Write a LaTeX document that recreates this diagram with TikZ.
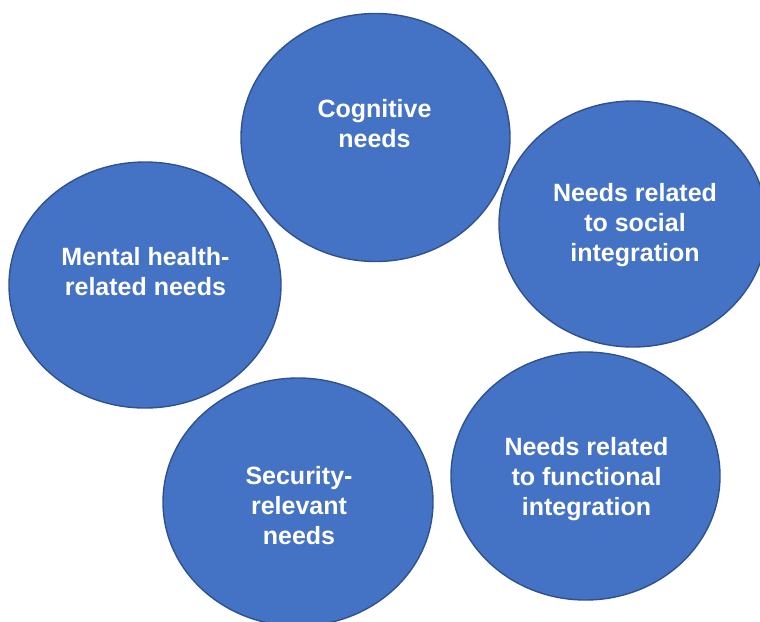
\documentclass[tikz,border=0pt]{standalone}
\usepackage{fontspec}
\setmainfont{Liberation Sans}
\usetikzlibrary{shapes.geometric}
\definecolor{blobfill}{HTML}{4472C4}
\definecolor{blobline}{HTML}{2F528F}
\tikzset{
  blob/.style={ellipse, fill=blobfill, draw=blobline, line width=1.4pt,
    minimum width=269pt, minimum height=248pt, inner sep=0pt},
  blobtext/.style={text=white, align=center, inner sep=0pt,
    font=\bfseries\fontsize{25}{30}\selectfont}
}
\begin{document}
\begin{tikzpicture}[x=1pt,y=-1pt]
  \useasboundingbox (0,0) rectangle (760,621);
  \begin{scope}
    \clip (0,0) rectangle (760,621);
    \node[blob] (cog) at (375.5,137.5) {};
    \node[blob, minimum width=268pt, minimum height=246pt] (soc) at (633,224) {};
    \node[blob, minimum width=272pt, minimum height=246pt] (men) at (145,285) {};
    \node[blob, minimum width=270pt] (sec) at (298,502) {};
    \node[blob] (fun) at (585.5,476) {};
  \end{scope}
  \node[blobtext] (cogt) at (374.5,124) {Cognitive\\needs};
  \node[blobtext] (soct) at (635,225.5) {Needs related\\to social\\integration};
  \node[blobtext] (ment) at (145.5,272) {Mental health-\\related needs};
  \node[blobtext] (sect) at (299,505.5) {Security-\\relevant\\needs};
  \node[blobtext] (funt) at (586.5,479.5) {Needs related\\to functional\\integration};
\end{tikzpicture}
\end{document}
